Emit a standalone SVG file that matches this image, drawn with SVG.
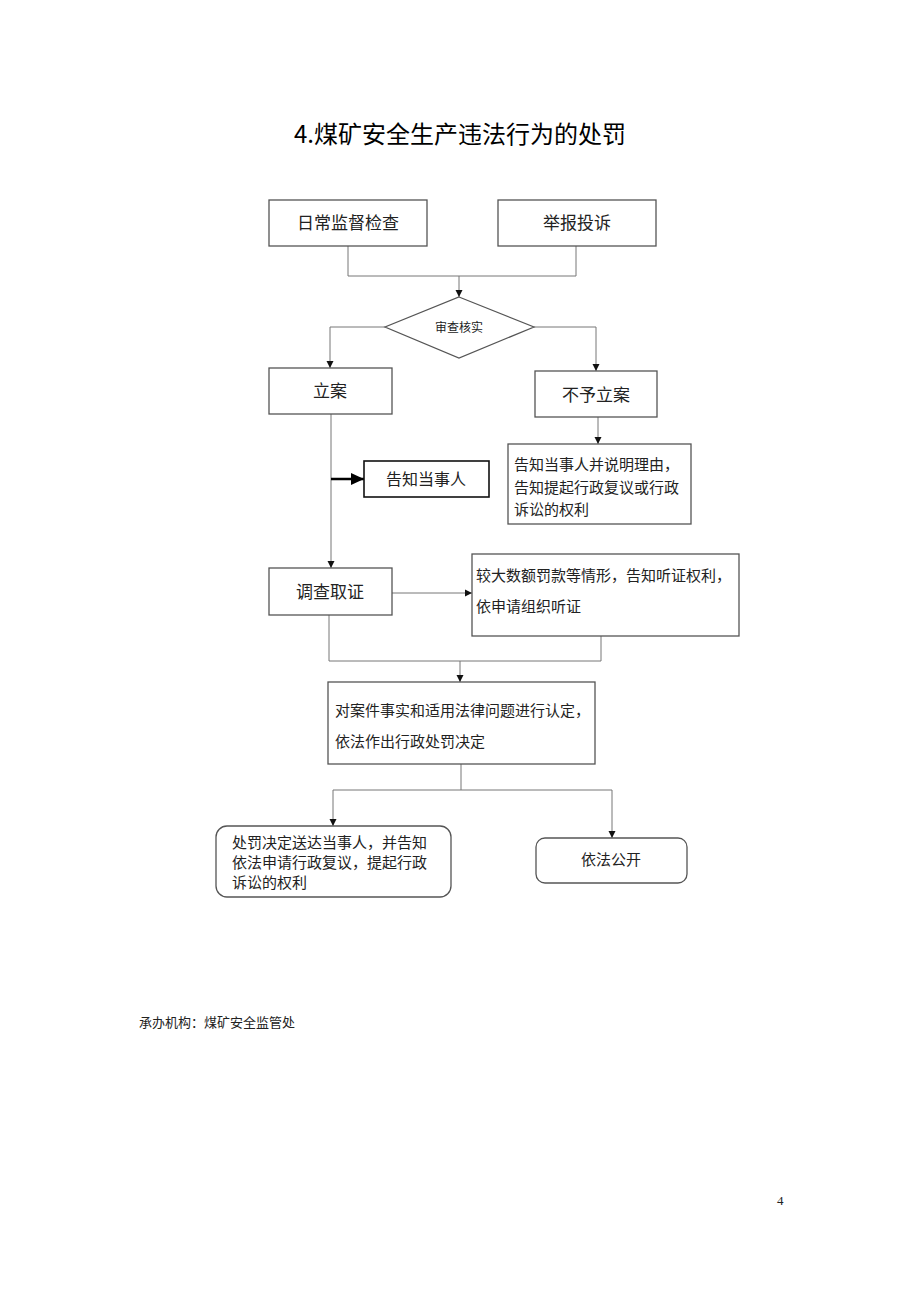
<svg xmlns="http://www.w3.org/2000/svg" width="920" height="1302" viewBox="0 0 920 1302">
<style>
.box{fill:#fff;stroke:#555;stroke-width:1.3}
.t{font-family:"Liberation Serif","Noto Sans CJK SC",serif;fill:#222}
.c{fill:none;stroke:#777;stroke-width:1}
</style>
<defs>
<marker id="ah" markerWidth="8" markerHeight="8" refX="7" refY="4" orient="auto" markerUnits="userSpaceOnUse"><path d="M0,0.5 L7,4 L0,7.5 Z" fill="#111"/></marker>
<marker id="ahb" markerWidth="14" markerHeight="12" refX="13" refY="6" orient="auto" markerUnits="userSpaceOnUse"><path d="M0,0 L13,6 L0,12 Z" fill="#000"/></marker>
</defs>
<rect width="920" height="1302" fill="#fff"/>
<text x="460" y="143" text-anchor="middle" font-family="'Noto Sans CJK SC',sans-serif" font-size="24" fill="#000">4.煤矿安全生产违法行为的处罚</text>

<g id="connectors">
<path class="c" d="M348,246 V276 H576 V246"/>
<path class="c" d="M459,276 V297" marker-end="url(#ah)"/>
<path class="c" d="M385,327 H330 V368" marker-end="url(#ah)"/>
<path class="c" d="M534,327 H596 V371" marker-end="url(#ah)"/>
<path class="c" d="M598,417 V444" marker-end="url(#ah)"/>
<path class="c" d="M331,414 V568" marker-end="url(#ah)"/>
<path d="M331,479 H364" fill="none" stroke="#000" stroke-width="2.5" marker-end="url(#ahb)"/>
<path class="c" d="M392,593 H472" marker-end="url(#ah)"/>
<path class="c" d="M329,615 V661 H601 V636"/>
<path class="c" d="M460,661 V682" marker-end="url(#ah)"/>
<path class="c" d="M461,764 V790"/>
<path class="c" d="M333,790 H612"/>
<path class="c" d="M333,790 V826" marker-end="url(#ah)"/>
<path class="c" d="M612,790 V838" marker-end="url(#ah)"/>
</g>

<g id="n1"><rect class="box" x="269" y="200" width="158" height="46"/><text class="t" x="348" y="229" font-size="17" text-anchor="middle">日常监督检查</text></g>
<g id="n2"><rect class="box" x="498" y="200" width="158" height="46"/><text class="t" x="577" y="229" font-size="17" text-anchor="middle">举报投诉</text></g>
<g id="n3"><polygon points="459,297 534,327 459,358 385,327" fill="#fff" stroke="#555" stroke-width="1.2"/><text class="t" x="459" y="332" font-size="12" text-anchor="middle">审查核实</text></g>
<g id="n4"><rect class="box" x="269" y="368" width="123" height="46"/><text class="t" x="330" y="397" font-size="17" text-anchor="middle">立案</text></g>
<g id="n5"><rect class="box" x="535" y="371" width="122" height="46"/><text class="t" x="596" y="401" font-size="17" text-anchor="middle">不予立案</text></g>
<g id="n6"><rect class="box" x="508" y="444" width="183" height="80"/>
<text class="t" font-size="15"><tspan x="514" y="470">告知当事人并说明理由，</tspan><tspan x="514" y="493">告知提起行政复议或行政</tspan><tspan x="514" y="515">诉讼的权利</tspan></text></g>
<g id="n7"><rect x="364" y="461" width="125" height="36" fill="#fff" stroke="#111" stroke-width="1.6"/><text class="t" x="426" y="485" font-size="16" text-anchor="middle">告知当事人</text></g>
<g id="n8"><rect class="box" x="269" y="568" width="123" height="47"/><text class="t" x="330" y="598" font-size="17" text-anchor="middle">调查取证</text></g>
<g id="n9"><rect class="box" x="472" y="554" width="267" height="82"/>
<text class="t" font-size="15"><tspan x="476" y="581">较大数额罚款等情形，告知听证权利，</tspan><tspan x="476" y="612">依申请组织听证</tspan></text></g>
<g id="n10"><rect class="box" x="328" y="682" width="267" height="82"/>
<text class="t" font-size="15"><tspan x="335" y="716">对案件事实和适用法律问题进行认定，</tspan><tspan x="335" y="747">依法作出行政处罚决定</tspan></text></g>
<g id="n11"><rect class="box" x="216" y="826" width="235" height="71" rx="11"/>
<text class="t" font-size="15"><tspan x="232" y="848">处罚决定送达当事人，并告知</tspan><tspan x="232" y="868">依法申请行政复议，提起行政</tspan><tspan x="232" y="888">诉讼的权利</tspan></text></g>
<g id="n12"><rect class="box" x="536" y="838" width="151" height="45" rx="9"/><text class="t" x="611" y="865" font-size="15" text-anchor="middle">依法公开</text></g>

<text class="t" x="139" y="1027" font-size="13">承办机构：煤矿安全监管处</text>
<text class="t" x="777" y="1205" font-size="13">4</text>
</svg>
